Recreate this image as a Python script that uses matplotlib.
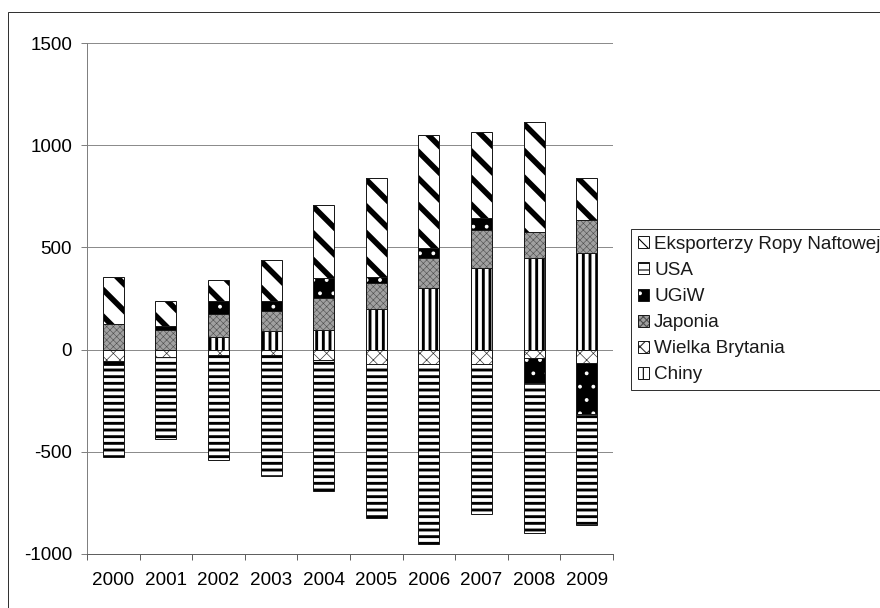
#!/usr/bin/env python3

# ========================================================================
#
# Imports
#
# ========================================================================
import numpy as np
import matplotlib as mpl
mpl.use('Agg')
import matplotlib.pyplot as plt
from matplotlib.patches import Patch, Rectangle

# ========================================================================
#
# Data
#
# ========================================================================
years = ['2000', '2001', '2002', '2003', '2004',
         '2005', '2006', '2007', '2008', '2009']

chiny = [0, 0, 64, 90, 96, 199, 300, 397, 446, 475]
wielka_brytania = [-57, -37, -28, -28, -50, -72, -72, -72, -39, -65]
japonia = [126, 96, 111, 100, 155, 125, 146, 187, 130, 158]
ugiw = [-20, 21, 65, 50, 100, 32, 49, 62, -124, -248]
usa = [-446, -400, -510, -588, -643, -754, -880, -731, -734, -547]
eksporterzy = [228, 123, 101, 200, 358, 483, 556, 417, 536, 206]

names = ['Chiny', 'Wielka Brytania', 'Japonia', 'UGiW', 'USA',
         'Eksporterzy Ropy Naftowej']
series = [chiny, wielka_brytania, japonia, ugiw, usa, eksporterzy]

# (face colour, hatch, hatch colour, hatch linewidth)
fills = [('white', '||', 'black', 2.6),
         ('white', 'xx', '#303030', 0.6),
         ('#a0a0a0', 'xxxx', '#4d4d4d', 0.5),
         ('black', '.', 'white', 1.0),
         ('white', '--', 'black', 2.6),
         ('white', '\\', 'black', 5.0)]

# ========================================================================
#
# Plot
#
# ========================================================================
plt.rcParams['font.family'] = 'Liberation Sans'
plt.rcParams['font.size'] = 17
plt.rcParams['text.color'] = '#1a1a1a'
plt.rcParams['axes.unicode_minus'] = False

W, H = 880, 608
fig = plt.figure(figsize=(W / 80, H / 80), dpi=80)
ax = fig.add_axes([87 / W, 1 - 554 / H, (613 - 87) / W, (554 - 43) / H])

x = np.arange(len(years))
pos = np.zeros(len(years))
neg = np.zeros(len(years))
edge = '#1a1a1a'
handles = []
for name, vals, (fc, hatch, hc, hlw) in zip(names, series, fills):
    vals = np.array(vals, dtype=float)
    bottom = np.where(vals >= 0, pos, neg)
    with mpl.rc_context({'hatch.color': hc, 'hatch.linewidth': hlw}):
        ax.bar(x, vals, 0.4, bottom=bottom, facecolor=fc, hatch=hatch,
               linewidth=0, zorder=2)
        h = Patch(facecolor=fc, hatch=hatch, linewidth=0)
    ax.bar(x, vals, 0.4, bottom=bottom, fill=False, edgecolor=edge,
           linewidth=0.9, zorder=3)
    handles.append((h, Patch(fill=False, edgecolor=edge, linewidth=0.9)))
    pos += np.where(vals > 0, vals, 0)
    neg += np.where(vals < 0, vals, 0)

# ========================================================================
# Format the axes
ax.set_xlim(-0.5, len(years) - 0.5)
ax.set_ylim(-1000, 1500)
ax.set_yticks(np.arange(-1000, 1501, 500))
ax.yaxis.grid(True, color='#8c8c8c', linewidth=0.9)
ax.set_axisbelow(True)
for s in ['top', 'right']:
    ax.spines[s].set_visible(False)
ax.spines['left'].set_color('#808080')
ax.spines['bottom'].set_color('#606060')
ax.spines['left'].set_linewidth(0.9)
ax.spines['bottom'].set_linewidth(0.9)

ax.set_xticks(x)
ax.set_xticklabels(years)
ax.set_xticks(np.arange(-0.5, len(years)), minor=True)
ax.tick_params(axis='y', length=5.4, width=0.9, color='#808080', pad=8)
ax.tick_params(axis='x', which='major', length=0, pad=16)
ax.tick_params(axis='x', which='minor', length=5.4, width=0.9,
               color='#606060')

# ========================================================================
# Legend and chart border
leg = fig.legend(handles[::-1], names[::-1], loc='lower left',
                 bbox_to_anchor=(631 / W, 1 - 390 / H),
                 bbox_transform=fig.transFigure, frameon=True,
                 fancybox=False, edgecolor='#333333', framealpha=1,
                 borderpad=0.35, borderaxespad=0, handlelength=0.6,
                 handleheight=0.6, handletextpad=0.28, labelspacing=0.48)
leg.get_frame().set_linewidth(0.9)

fig.patches.append(Rectangle((8 / W, -0.05), 1.0, 1 - 12 / H + 0.05,
                             transform=fig.transFigure, fill=False,
                             edgecolor='#333333', linewidth=0.9))

plt.savefig('out.png', dpi=80)
